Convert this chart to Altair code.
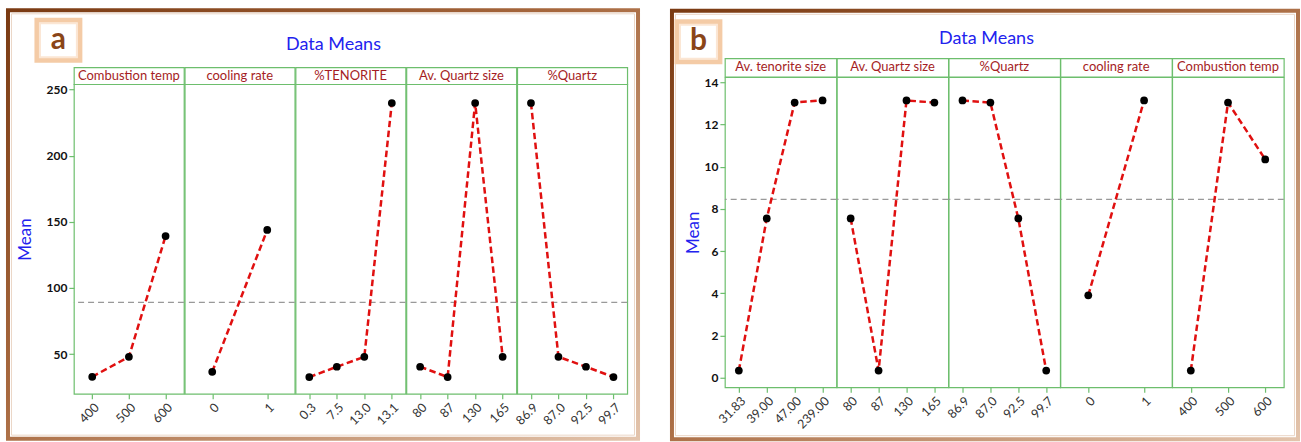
import altair as alt
import pandas as pd

# ---------------- data: panel a ----------------
a_factors = ["Combustion temp", "cooling rate", "%TENORITE", "Av. Quartz size", "%Quartz"]
a_levels = [["400", "500", "600"], ["0", "1"], ["0.3", "7.5", "13.0", "13.1"],
            ["80", "87", "130", "165"], ["86.9", "87.0", "92.5", "99.7"]]
a_means = [[32.8, 47.9, 139.2], [36.6, 143.8], [32.6, 40.4, 47.9, 239.8],
           [40.4, 32.6, 239.8, 47.9], [239.8, 47.9, 40.4, 32.6]]
a_grand_mean = 89.0
a_y_ticks = [50, 100, 150, 200, 250]
a_y_domain = [20, 254]

# ---------------- data: panel b ----------------
b_factors = ["Av. tenorite size", "Av. Quartz size", "%Quartz", "cooling rate", "Combustion temp"]
b_levels = [["31.83", "39.00", "47.00", "239.00"], ["80", "87", "130", "165"],
            ["86.9", "87.0", "92.5", "99.7"], ["0", "1"], ["400", "500", "600"]]
b_means = [[0.33, 7.55, 13.05, 13.15], [7.55, 0.33, 13.15, 13.05],
           [13.15, 13.05, 7.55, 0.33], [3.9, 13.15], [0.33, 13.05, 10.35]]
b_grand_mean = 8.45
b_y_ticks = [0, 2, 4, 6, 8, 10, 12, 14]
b_y_domain = [-0.46, 14.25]

panel_title = "Data Means"

GREEN = "#6DBE6D"
RED = "#E01010"
BLUE = "#2222EE"
STRIP_RED = "#A51D24"
FONT = "Lato"

one = pd.DataFrame({"k": [0]})

frame_grad = alt.LinearGradient(
    gradient="linear",
    stops=[alt.GradientStop(color="#7A3A12", offset=0),
           alt.GradientStop(color="#A8693F", offset=0.45),
           alt.GradientStop(color="#E3C4AC", offset=1)],
    x1=0, y1=0, x2=1, y2=1)


def blank(w, h):
    return alt.Chart(one).mark_point(opacity=0).encode(
        x=alt.X("k:N", axis=None)).properties(
        width=w, height=h, view=alt.ViewBackground(strokeOpacity=0))


def decorations(label, frame, box, letter_pos, title_pos):
    fx1, fx2, fy1, fy2 = frame
    bx1, bx2, by1, by2 = box
    frame_outer = alt.Chart(one).mark_rect(
        fillOpacity=0, stroke=frame_grad, strokeWidth=4).encode(
        x=alt.value(fx1), x2=alt.value(fx2), y=alt.value(fy1), y2=alt.value(fy2))
    frame_inner = alt.Chart(one).mark_rect(
        fillOpacity=0, stroke="#EBD6C6", strokeWidth=1).encode(
        x=alt.value(fx1 + 3.5), x2=alt.value(fx2 - 3.5),
        y=alt.value(fy1 + 3.5), y2=alt.value(fy2 - 3.5))
    box_glow = alt.Chart(one).mark_rect(
        fill="white", stroke="#F4CBA6", strokeWidth=5).encode(
        x=alt.value(bx1), x2=alt.value(bx2), y=alt.value(by1), y2=alt.value(by2))
    box_inner = alt.Chart(one).mark_rect(
        fillOpacity=0, stroke="#FBE6D4", strokeWidth=2).encode(
        x=alt.value(bx1 + 3), x2=alt.value(bx2 - 3), y=alt.value(by1 + 3), y2=alt.value(by2 - 3))
    letter = alt.Chart(pd.DataFrame({"t": [label]})).mark_text(
        font=FONT, fontSize=30, fontWeight="bold", color="#8A4518",
        align="center", baseline="middle").encode(
        text="t:N", x=alt.value(letter_pos[0]), y=alt.value(letter_pos[1]))
    title = alt.Chart(pd.DataFrame({"t": [panel_title]})).mark_text(
        font=FONT, fontSize=18, color=BLUE, align="center", baseline="middle").encode(
        text="t:N", x=alt.value(title_pos[0]), y=alt.value(title_pos[1]))
    return [frame_outer, frame_inner, box_glow, box_inner, letter, title]


def build_panel(factors, levels, means, grand_mean, y_ticks, y_domain,
                col_w, strip_h, plot_h, deco, title_pad, top_gap):
    strips, plots = [], []
    for i, name in enumerate(factors):
        strip = alt.Chart(pd.DataFrame({"name": [name]})).mark_text(
            font=FONT, fontSize=13, color=STRIP_RED, align="center", baseline="middle").encode(
            x=alt.X("name:N", axis=None), text="name:N").properties(width=col_w, height=strip_h)

        df = pd.DataFrame({"level": levels[i], "mean": means[i], "idx": list(range(len(levels[i])))})
        x = alt.X("level:O", sort=levels[i], scale=alt.Scale(padding=0.5),
                  axis=alt.Axis(title=None, labelAngle=-45, labelFontSize=12.5,
                                labelColor="#333333", labelPadding=2))
        if i == 0:
            yaxis = alt.Axis(values=y_ticks, title="Mean", titleColor=BLUE, titleFontSize=17,
                             titleFontWeight="normal", labelFontWeight="bold", labelFontSize=12,
                             labelColor="#111111", labelPadding=2, titlePadding=title_pad)
        else:
            yaxis = None
        yscale = alt.Scale(domain=y_domain, nice=False, zero=False)
        y = alt.Y("mean:Q", scale=yscale, axis=yaxis)
        base = alt.Chart(df)
        rule = alt.Chart(pd.DataFrame({"mean": [grand_mean]})).mark_rule(
            color="#999999", strokeWidth=1.3, strokeDash=[6, 4]).encode(y=y)
        line = base.mark_line(color=RED, strokeWidth=2.5, strokeDash=[6.5, 3.5]).encode(
            x=x, y=y, order="idx:Q")
        pts = base.mark_circle(color="black", size=60, opacity=1).encode(x=x, y=y)
        layers = [rule, line, pts]
        if i == 0:
            layers = deco + layers
        plot = alt.layer(*layers).properties(width=col_w, height=plot_h)
        strips.append(strip)
        plots.append(plot)
    cells = strips + plots
    if top_gap:
        cells = [blank(col_w, top_gap) for _ in factors] + cells
    return alt.concat(*cells, columns=5, spacing=0, bounds="flush")


# decorations placed relative to the first plot's origin
deco_a = decorations("a", frame=(-66, 565, -74, 355), box=(-37, 6, -64, -24),
                     letter_pos=(-15.5, -44), title_pos=(260, -39))
deco_b = decorations("b", frame=(-53, 574, -66.5, 362.5), box=(-48, -5, -55.5, -15.5),
                     letter_pos=(-26.5, -36.5), title_pos=(262, -38.5))

panel_a = build_panel(a_factors, a_levels, a_means, a_grand_mean, a_y_ticks,
                      a_y_domain, 110.2, 17, 310, deco_a, 12, 9)
panel_b = build_panel(b_factors, b_levels, b_means, b_grand_mean, b_y_ticks,
                      b_y_domain, 111.8, 18.5, 310.5, deco_b, 2, 0)

chart = alt.hconcat(panel_a, panel_b, spacing=28).properties(
    padding={"left": 5, "top": 7, "right": 0, "bottom": 0},
    background="white",
).configure_view(
    stroke=GREEN, strokeWidth=1.2
).configure_axis(
    grid=False, domain=False, tickColor=GREEN, tickSize=5, tickWidth=1.2,
    labelFont=FONT, titleFont=FONT
).configure_text(font=FONT)

chart.save("out.html", embed_options={"renderer": "svg", "actions": False})
